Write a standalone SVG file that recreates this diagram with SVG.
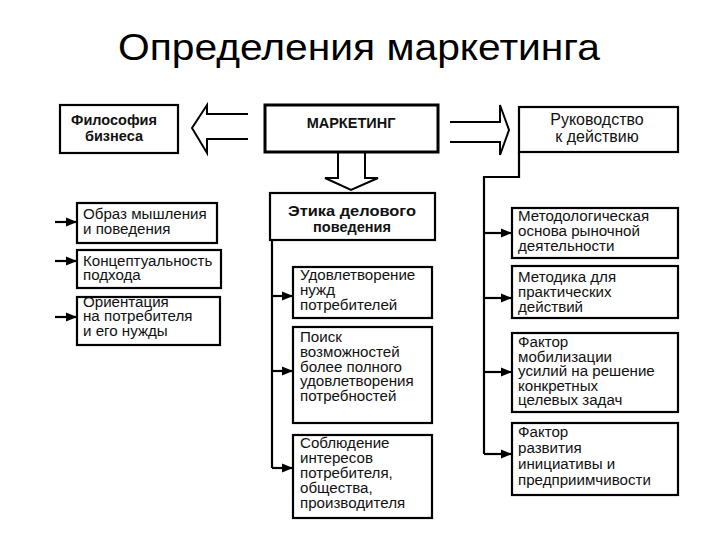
<svg xmlns="http://www.w3.org/2000/svg" width="720" height="540" viewBox="0 0 720 540">
<defs>
<style>
.box{fill:#fff;stroke:#000;stroke-width:2.2}
.thick{stroke-width:3}
.t{font-family:"Liberation Sans",Arial,sans-serif;font-size:14px;fill:#111}
.b{font-family:"Liberation Sans",Arial,sans-serif;font-size:14.5px;font-weight:bold;fill:#111}
.ln{fill:none;stroke:#000;stroke-width:2.2}
.big{fill:#fff;stroke:#000;stroke-width:2}
</style>
<marker id="ah" viewBox="0 0 10 10" refX="10" refY="5" markerWidth="5" markerHeight="5" orient="auto" markerUnits="strokeWidth">
<path d="M0,1 L10,5 L0,9 z" fill="#000"/>
</marker>
</defs>
<rect width="720" height="540" fill="#fff"/>
<text x="118" y="60" font-family="Liberation Sans, Arial, sans-serif" font-size="37" textLength="482" lengthAdjust="spacingAndGlyphs" fill="#000">Определения маркетинга</text>

<g id="connectors">
<path class="big" d="M248,114 L207,114 L207,105 L192,128 L207,153 L207,139 L248,139"/>
<path class="big" d="M450,122 L500,122 L500,105 L509,130 L500,155 L500,142 L450,142"/>
<path class="big" d="M338,152 L338,178 L325,178 L351,190 L378,178 L365,178 L365,152"/>
<line class="ln" x1="55" y1="222" x2="77" y2="222" marker-end="url(#ah)"/>
<line class="ln" x1="55" y1="261" x2="77" y2="261" marker-end="url(#ah)"/>
<line class="ln" x1="55" y1="317" x2="77" y2="317" marker-end="url(#ah)"/>
<path class="ln" d="M272,240 L272,468"/>
<line class="ln" x1="272" y1="296" x2="293" y2="296" marker-end="url(#ah)"/>
<line class="ln" x1="272" y1="371" x2="293" y2="371" marker-end="url(#ah)"/>
<line class="ln" x1="272" y1="468" x2="293" y2="468" marker-end="url(#ah)"/>
<path class="ln" d="M519,152 L519,177 L484,177 L484,454"/>
<line class="ln" x1="484" y1="233" x2="512" y2="233" marker-end="url(#ah)"/>
<line class="ln" x1="484" y1="298" x2="512" y2="298" marker-end="url(#ah)"/>
<line class="ln" x1="484" y1="372" x2="512" y2="372" marker-end="url(#ah)"/>
<line class="ln" x1="484" y1="454" x2="512" y2="454" marker-end="url(#ah)"/>
</g>

<g id="philosophy">
<rect class="box" x="60" y="105" width="118" height="48"/>
<text class="b" text-anchor="middle" x="114" y="125">Философия</text>
<text class="b" text-anchor="middle" x="114" y="141">бизнеса</text>
</g>
<g id="marketing">
<rect class="box thick" x="265" y="105" width="173" height="47"/>
<text class="b" text-anchor="middle" x="351" y="128">МАРКЕТИНГ</text>
</g>
<g id="guide">
<rect class="box" x="519" y="107" width="159" height="45"/>
<text class="t" text-anchor="middle" x="597" y="125" style="font-size:16px">Руководство</text>
<text class="t" text-anchor="middle" x="597" y="142" style="font-size:16px">к действию</text>
</g>

<g id="left1">
<rect class="box" x="77" y="203" width="140" height="40"/>
<g transform="translate(83 0) scale(1.08 1)"><text class="t" y="219">Образ  мышления</text><text class="t" y="234">и  поведения</text></g>
</g>
<g id="left2">
<rect class="box" x="77" y="250" width="144" height="38"/>
<g transform="translate(83 0) scale(1.08 1)"><text class="t" y="266">Концептуальность</text><text class="t" y="280">подхода</text></g>
</g>
<g id="left3">
<rect class="box" x="77" y="297" width="143" height="48"/>
<g transform="translate(83 0) scale(1.08 1)"><text class="t" y="307">Ориентация</text><text class="t" y="321">на  потребителя</text><text class="t" y="336">и  его  нужды</text></g>
</g>

<g id="ethics">
<rect class="box" x="270" y="193" width="165" height="47"/>
<text class="b" text-anchor="middle" x="352" y="216" textLength="128" lengthAdjust="spacingAndGlyphs">Этика  делового</text>
<text class="b" text-anchor="middle" x="352" y="232">поведения</text>
</g>
<g id="center1">
<rect class="box" x="293" y="267" width="139" height="51"/>
<g transform="translate(300 0) scale(1.08 1)"><text class="t" y="280">Удовлетворение</text><text class="t" y="295">нужд</text><text class="t" y="310">потребителей</text></g>
</g>
<g id="center2">
<rect class="box" x="293" y="327" width="139" height="96"/>
<g transform="translate(300 0) scale(1.08 1)"><text class="t" y="342">Поиск</text><text class="t" y="357">возможностей</text><text class="t" y="372">более   полного</text><text class="t" y="386">удовлетворения</text><text class="t" y="401">потребностей</text></g>
</g>
<g id="center3">
<rect class="box" x="293" y="435" width="139" height="83"/>
<g transform="translate(300 0) scale(1.08 1)"><text class="t" y="448">Соблюдение</text><text class="t" y="463">интересов</text><text class="t" y="478">потребителя,</text><text class="t" y="493">общества,</text><text class="t" y="508">производителя</text></g>
</g>

<g id="right1">
<rect class="box" x="512" y="208" width="166" height="50"/>
<g transform="translate(518 0) scale(1.08 1)"><text class="t" y="221">Методологическая</text><text class="t" y="236">основа   рыночной</text><text class="t" y="251">деятельности</text></g>
</g>
<g id="right2">
<rect class="box" x="512" y="266" width="166" height="52"/>
<g transform="translate(518 0) scale(1.08 1)"><text class="t" y="282">Методика для</text><text class="t" y="297">практических</text><text class="t" y="312">действий</text></g>
</g>
<g id="right3">
<rect class="box" x="512" y="333" width="166" height="79"/>
<g transform="translate(518 0) scale(1.08 1)"><text class="t" y="347">Фактор</text><text class="t" y="362">мобилизации</text><text class="t" y="376">усилий  на  решение</text><text class="t" y="391">конкретных</text><text class="t" y="405">целевых  задач</text></g>
</g>
<g id="right4">
<rect class="box" x="512" y="423" width="166" height="72"/>
<g transform="translate(518 0) scale(1.08 1)"><text class="t" y="437">Фактор</text><text class="t" y="453">развития</text><text class="t" y="469">инициативы  и</text><text class="t" y="485">предприимчивости</text></g>
</g>
</svg>
